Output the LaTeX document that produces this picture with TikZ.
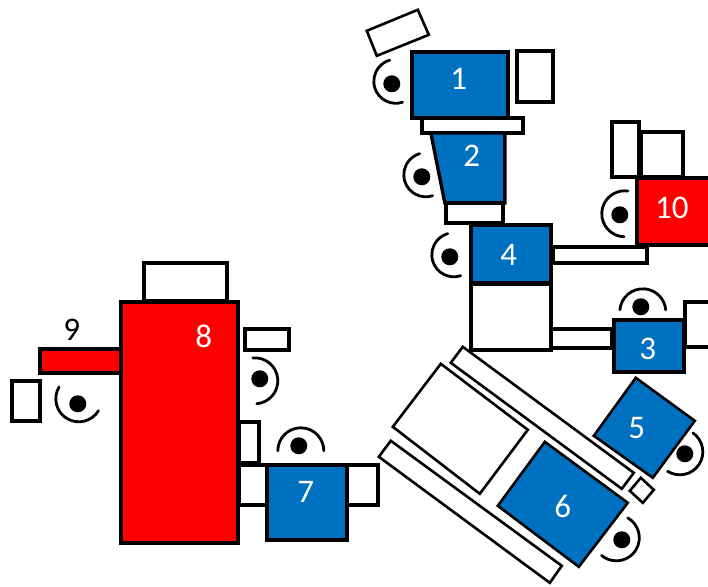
\documentclass[tikz,border=0pt]{standalone}
\usepackage{fontspec}
\setmainfont{Carlito}
\usepackage{xcolor}
\definecolor{stblue}{HTML}{0070C0}
\definecolor{stred}{HTML}{FF0000}

\begin{document}
\begin{tikzpicture}[x=1pt,y=-1pt,
    plain/.style={draw=black,line width=3.4pt,fill=white},
    thin plain/.style={draw=black,line width=2.6pt,fill=white},
    blue box/.style={plain,fill=stblue},
    red box/.style={plain,fill=stred},
    num/.style={text=white,font=\fontsize{33}{33}\selectfont,inner sep=0pt},
    worker/.style={line width=2.8pt,line cap=round}]
  \clip (0,0) rectangle (708,586);
  \begin{scope}[xshift=-0.2pt,yshift=0.2pt]

  % white benches
  \draw[thin plain] (367,31)--(418,10)--(429,35)--(377,56)--cycle;
  \draw[plain] (517,51) rectangle (553,102);
  \draw[plain] (422,118) rectangle (523,133);
  \draw[plain] (446,203) rectangle (503,223);
  \draw[plain] (553,247) rectangle (647,263);
  \draw[plain] (612,122) rectangle (639,177);
  \draw[plain] (641,132) rectangle (683,177);
  \draw[plain] (471,284) rectangle (551,350);
  \draw[plain] (551,329) rectangle (612,348);
  \draw[plain] (685,302) rectangle (716,347);
  \draw[thin plain] (641,478)--(654,490)--(643,503)--(630,491)--cycle;
  \draw[thin plain] (463,347)--(634,473)--(622,489)--(451,363)--cycle;
  \draw[thin plain] (441,364)--(528,430)--(480,494)--(393,427)--cycle;
  \draw[thin plain] (391,441)--(562,566)--(550,583)--(379,457)--cycle;
  \draw[plain] (144,263) rectangle (227,301);
  \draw[plain] (12,381) rectangle (40,421);
  \draw[plain] (245,329) rectangle (289,350);
  \draw[plain] (239,422) rectangle (259,463);
  \draw[plain] (239,465) rectangle (267,505);
  \draw[plain] (347,465) rectangle (378,505);

  % stations
  \draw[blue box] (412,52) rectangle (508,118);
  \draw[blue box] (431,133)--(505,133)--(505,203)--(445,203)--cycle;
  \draw[blue box] (471,225) rectangle (551,283);
  \draw[blue box] (614,320) rectangle (684,372);
  \draw[blue box,line width=2.6pt] (636,378)--(695,421)--(653,478)--(594,436)--cycle;
  \draw[blue box,line width=2.6pt] (545,442)--(628,503)--(579,567)--(498,506)--cycle;
  \draw[blue box] (267,465) rectangle (347,540);
  \draw[red box] (637,178) rectangle (716,245);
  \draw[red box] (40,349) rectangle (122,373);
  \draw[red box] (121,302) rectangle (238,543);

  % workers: dot x/y, arc centre x/y, start, end, radius
  \foreach \dx/\dy/\cx/\cy/\s/\e/\r in {
      392/84/396/81.5/72/254/22,
      422/177/426/175/72/254/22,
      450/257/454/255/72/254/22,
      620/215/625/214/92/278/23,
      641/307/643/312/185/355/23,
      685/454/680/452/-55/122/23,
      622/540/616.5/538/-60/130/23,
      299/446/301/451/180/360/23,
      260/379/255/381/-95/85/23,
      78/404/79/399/31/211/23}{
    \fill (\dx,\dy) circle (8.5);
    \draw[worker] ([shift={(\s:\r)}]\cx,\cy) arc (\s:\e:\r);
  }

  % numbers
  \node[num] (n1) at (459,79) {1};
  \node[num] (n2) at (472,156) {2};
  \node[num] (n3) at (648,349) {3};
  \node[num] (n4) at (509,255) {4};
  \node[num] (n5) at (637,428) {5};
  \node[num] (n6) at (563,507) {6};
  \node[num] (n7) at (306,492) {7};
  \node[num] (n8) at (204,337) {8};
  \node[num,text=black] (n9) at (72,330) {9};
  \node[num] (n10) at (672,208) {10};
  \end{scope}
\end{tikzpicture}
\end{document}
